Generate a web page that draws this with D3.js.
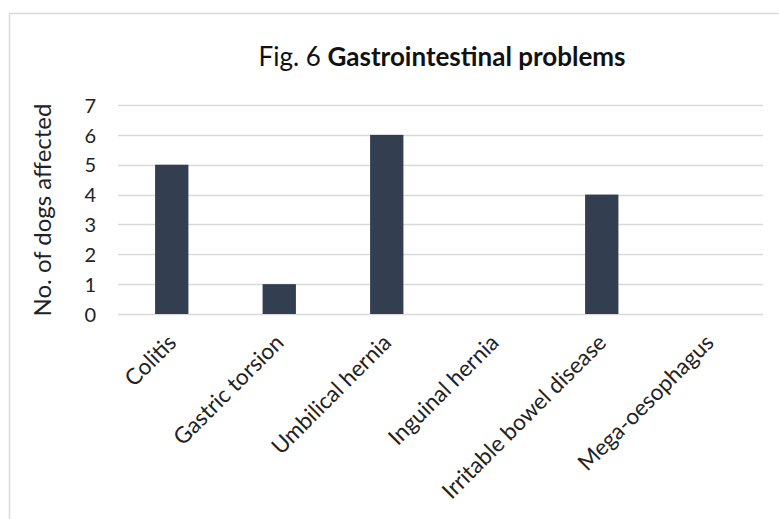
<!DOCTYPE html>
<html>
<head>
<meta charset="utf-8">
<script src="https://cdn.jsdelivr.net/npm/d3@7"></script>
<style>
  html, body { margin: 0; padding: 0; background: #fff; }
  svg { display: block; }
  text { font-family: Lato, "Open Sans", "Liberation Sans", sans-serif; }
</style>
</head>
<body>
<svg id="chart" width="779" height="519"></svg>
<script>
// Gastrointestinal problems by number of dogs affected
const categories = ["Colitis", "Gastric torsion", "Umbilical hernia", "Inguinal hernia", "Irritable bowel disease", "Mega-oesophagus"];
const dogsAffected = [5, 1, 6, 0, 4, 0];
const yTicks = [0, 1, 2, 3, 4, 5, 6, 7];

const svg = d3.select("#chart");
const W = 779, H = 519;
const FONT = "Lato, 'Open Sans', sans-serif";

// chart frame
svg.append("rect")
  .attr("x", 9.5).attr("y", 13.5)
  .attr("width", W + 10).attr("height", H + 10)
  .attr("fill", "#fff")
  .attr("stroke", "#d9d9d9")
  .attr("stroke-width", 1.5);

const plot = { left: 118, right: 763, top: 105, bottom: 314 };

const x = d3.scaleBand()
  .domain(categories)
  .range([plot.left, plot.right])
  .paddingInner(0.69)
  .paddingOuter(0.345);

const y = d3.scaleLinear()
  .domain([0, 7])
  .range([plot.bottom, plot.top]);

// horizontal gridlines
svg.append("g")
  .selectAll("line")
  .data(yTicks)
  .join("line")
  .attr("x1", plot.left).attr("x2", plot.right)
  .attr("y1", d => Math.round(y(d)) + 0.5)
  .attr("y2", d => Math.round(y(d)) + 0.5)
  .attr("stroke", "#d9d9d9")
  .attr("stroke-width", 1.3);

// bars
svg.append("g")
  .selectAll("rect")
  .data(categories.map((c, i) => ({ c, v: dogsAffected[i] })))
  .join("rect")
  .attr("x", d => x(d.c))
  .attr("y", d => y(d.v))
  .attr("width", x.bandwidth())
  .attr("height", d => y(0) - y(d.v))
  .attr("fill", "#333f50");

// y axis tick labels
const yAxis = d3.axisLeft(y).tickValues(yTicks).tickFormat(d3.format("d")).tickSize(0).tickPadding(0);
const gy = svg.append("g")
  .attr("transform", `translate(${plot.left - 22},0)`)
  .call(yAxis)
  .attr("font-family", FONT)
  .attr("font-size", 20);
gy.select(".domain").remove();
gy.selectAll("text")
  .attr("fill", "#222")
  .attr("dy", "0.36em");

// x axis category labels, rotated
const xAxis = d3.axisBottom(x).tickSize(0).tickPadding(0);
const gx = svg.append("g")
  .attr("transform", `translate(0,${plot.bottom})`)
  .call(xAxis)
  .attr("font-family", FONT)
  .attr("font-size", 22.5);
gx.select(".domain").remove();
gx.selectAll("text")
  .attr("fill", "#222")
  .attr("text-anchor", "end")
  .attr("dy", 0)
  .attr("x", 0).attr("y", 0)
  .attr("transform", "translate(6,30) rotate(-45)");

// y axis title
svg.append("text")
  .attr("transform", `translate(51,210) rotate(-90)`)
  .attr("text-anchor", "middle")
  .attr("font-size", 24)
  .attr("fill", "#222")
  .text("No. of dogs affected");

// chart title
const title = svg.append("text")
  .attr("x", 442)
  .attr("y", 66)
  .attr("text-anchor", "middle")
  .attr("font-size", 26)
  .attr("fill", "#111");
title.append("tspan").text("Fig. 6  ");
title.append("tspan").attr("font-weight", "bold").text("Gastrointestinal problems");
</script>
</body>
</html>
